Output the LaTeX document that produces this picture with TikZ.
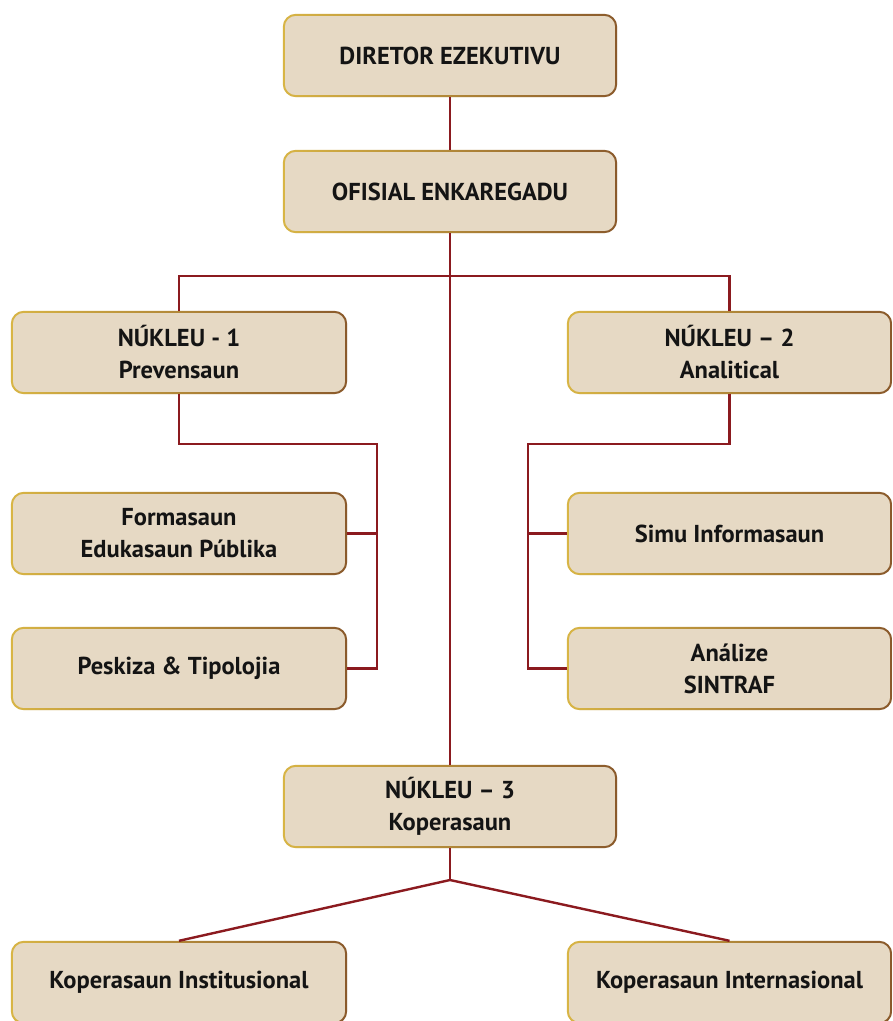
\documentclass[tikz,border=0pt]{standalone}
\usepackage{fontspec}
\setmainfont{PT Sans}
\usetikzlibrary{calc}
\definecolor{boxfill}{HTML}{E6D9C4}
\definecolor{linkred}{HTML}{8B1A1F}
\definecolor{rimgold}{HTML}{D8B545}
\definecolor{rimlight}{HTML}{EDD98A}
\definecolor{rimbrown}{HTML}{8A5A2C}
\tikzset{
  orgbox/.style={rounded corners=13pt, fill=boxfill, minimum height=83pt,
    inner sep=0pt, align=center, text=black!92,
    font=\bfseries\fontsize{24.5}{32}\selectfont},
  leftbox/.style={orgbox, minimum width=336pt},
  rightbox/.style={orgbox, minimum width=325pt},
  midbox/.style={orgbox, minimum width=334pt},
  link/.style={draw=linkred, line width=2.4pt}
}
% gilt rim around a box: horizontal gold-to-brown shading on a thin ring
\newcommand{\gildrim}[1]{%
  \shade[even odd rule, left color=rimgold, middle color=rimlight, right color=rimbrown]
    [rounded corners=13pt] (#1.south west) rectangle (#1.north east)
    [rounded corners=11pt] ($(#1.south west)+(2pt,2pt)$) rectangle ($(#1.north east)-(2pt,2pt)$);}
\begin{document}
\begin{tikzpicture}[x=1pt,y=-1pt]
\useasboundingbox (0,0) rectangle (893,1021);

% junction points of the connectors
\coordinate (hb) at (450,276);
\coordinate (t1) at (377,444);
\coordinate (t2) at (528,444);
\coordinate (j3) at (450,880);

% boxes
\node[midbox] (dir) at (450,55.5) {DIRETOR EZEKUTIVU};
\node[midbox] (ofi) at (450,191.5) {OFISIAL ENKAREGADU};
\node[leftbox] (n1) at (179,352.5) {NÚKLEU - 1\\Prevensaun};
\node[rightbox] (n2) at (729.5,352.5) {NÚKLEU – 2\\Analitical};
\node[leftbox] (for) at (179,533.5) {Formasaun\\Edukasaun Públika};
\node[leftbox] (pes) at (179,668.5) {Peskiza \& Tipolojia};
\node[rightbox] (sim) at (729.5,533.5) {Simu Informasaun};
\node[rightbox] (ana) at (729.5,668.5) {Análize\\SINTRAF};
\node[midbox] (n3) at (450,806.5) {NÚKLEU – 3\\Koperasaun};
\node[leftbox] (ki) at (179,982.5) {Koperasaun Institusional};
\node[rightbox] (kn) at (729.5,982.5) {Koperasaun Internasional};

\foreach \b in {dir,ofi,n1,n2,for,pes,sim,ana,n3,ki,kn}{\gildrim{\b}}

% connectors
\draw[link] (dir.south) -- (ofi.north);
\draw[link] (ofi.south) -- (n3.north);
\draw[link] (n1.north) |- (hb) -| (n2.north);

\draw[link] (n1.south) |- (t1) -- (t1 |- pes.east) -- (pes.east);
\draw[link] (t1 |- for.east) -- (for.east);

\draw[link] (n2.south) |- (t2) -- (t2 |- ana.west) -- (ana.west);
\draw[link] (t2 |- sim.west) -- (sim.west);

\draw[link] (n3.south) -- (j3);
\draw[link] (j3) -- (ki.north);
\draw[link] (j3) -- (kn.north);
\end{tikzpicture}
\end{document}
